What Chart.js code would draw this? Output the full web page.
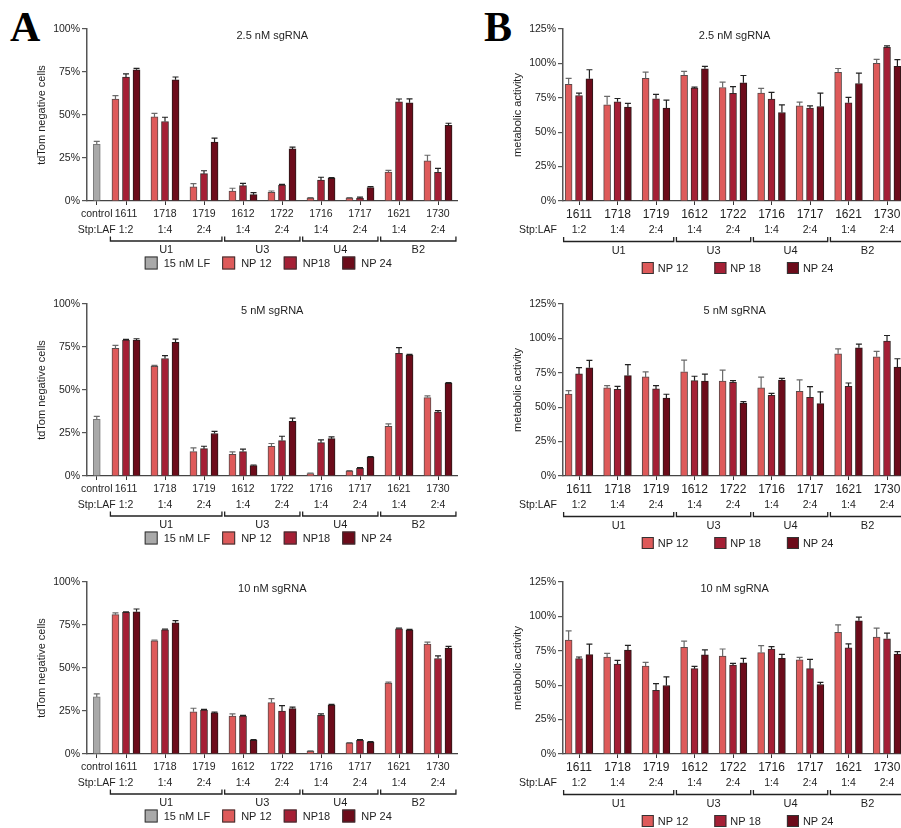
<!DOCTYPE html>
<html>
<head>
<meta charset="utf-8">
<title>sgRNA knockdown and metabolic activity</title>
<script src="https://cdn.jsdelivr.net/npm/chart.js@4.4.1/dist/chart.umd.min.js"></script>
<style>
  html, body { margin: 0; padding: 0; background: #fff; overflow: hidden; }
  #fig { position: relative; width: 901px; height: 828px; overflow: hidden; background: #fff; }
  #fig canvas { position: absolute; }
  .letter { position: absolute; font: bold 42px "Liberation Serif", "Times New Roman", serif; line-height: 1; color: #000; }
</style>
</head>
<body>
<div id="fig">
  <div class="letter" style="left:10px;top:6px">A</div>
  <div class="letter" style="left:484px;top:6px">B</div>
</div>
<script>
// ---- categories ----
const strains = ['1611', '1718', '1719', '1612', '1722', '1716', '1717', '1621', '1730'];
const ratios  = ['1:2', '1:4', '2:4', '1:4', '2:4', '1:4', '2:4', '1:4', '2:4'];
const groupNames = ['U1', 'U3', 'U4', 'B2'];
const groupSizes = [3, 2, 2, 2];

// ---- tdTom negative cells (%), mean and SD ----
const tdLF   = [33.0, 33.0, 33.2];
const tdLFsd = [1.7, 1.7, 1.7];

const td25_np12   = [59.2, 48.9, 8.2, 5.8, 5.0, 1.7, 1.7, 16.8, 23.3];
const td25_np12sd = [2.1, 2.1, 1.9, 1.6, 0.8, 0.3, 0.3, 1.0, 3.3];
const td25_np18   = [72.0, 46.2, 15.9, 8.9, 9.3, 12.2, 1.7, 57.7, 16.7];
const td25_np18sd = [1.9, 2.5, 1.7, 1.4, 0.4, 1.6, 0.5, 1.6, 2.3];
const td25_np24   = [76.3, 70.5, 34.2, 3.7, 30.3, 13.2, 7.8, 57.1, 44.0];
const td25_np24sd = [0.8, 1.6, 2.3, 1.2, 1.0, 0.4, 0.6, 2.3, 1.2];

const td5_np12   = [74.2, 63.7, 14.2, 12.6, 17.3, 1.4, 2.9, 28.9, 45.6];
const td5_np12sd = [1.7, 0.6, 2.1, 1.4, 1.6, 0.3, 0.3, 1.4, 1.0];
const td5_np18   = [79.0, 68.3, 15.9, 14.2, 20.6, 19.4, 4.5, 71.3, 37.2];
const td5_np18sd = [0.4, 1.7, 1.4, 1.4, 2.5, 1.6, 0.4, 3.3, 0.8];
const td5_np24   = [79.0, 77.7, 24.7, 6.0, 31.8, 21.7, 10.9, 70.3, 53.9];
const td5_np24sd = [0.8, 1.9, 1.2, 0.4, 1.9, 1.0, 0.4, 0.4, 0.4];

const td10_np12   = [81.0, 65.8, 24.5, 22.1, 29.9, 1.6, 6.4, 41.2, 63.9];
const td10_np12sd = [1.0, 0.4, 2.1, 1.2, 2.3, 0.3, 0.3, 0.6, 1.2];
const td10_np18   = [82.3, 72.2, 25.6, 22.1, 25.0, 22.5, 8.0, 72.8, 55.5];
const td10_np18sd = [0.4, 0.4, 0.4, 0.4, 3.1, 0.8, 0.4, 0.4, 1.5];
const td10_np24   = [82.7, 76.3, 23.9, 8.0, 26.4, 28.5, 6.8, 72.0, 61.6];
const td10_np24sd = [1.6, 1.2, 0.4, 0.4, 0.8, 0.4, 0.4, 0.4, 1.0];

// ---- metabolic activity (%), mean and SD ----
const ma25_np12   = [84.7, 69.9, 89.1, 91.3, 82.5, 78.4, 69.2, 93.6, 100.0];
const ma25_np12sd = [4.4, 6.1, 4.6, 2.9, 3.9, 3.4, 2.7, 2.7, 2.9];
const ma25_np18   = [76.7, 72.1, 74.3, 82.0, 78.2, 74.0, 67.5, 71.4, 111.7];
const ma25_np18sd = [1.7, 2.4, 3.2, 0.7, 4.9, 4.9, 1.7, 3.9, 1.0];
const ma25_np24   = [88.8, 68.2, 67.5, 96.1, 85.9, 64.3, 68.7, 85.4, 97.8];
const ma25_np24sd = [6.6, 2.7, 5.8, 1.7, 5.3, 5.6, 9.7, 7.6, 4.9];

const ma5_np12   = [59.6, 64.0, 72.0, 75.7, 68.9, 64.0, 61.6, 88.8, 86.6];
const ma5_np12sd = [2.4, 1.7, 3.6, 8.5, 8.0, 7.8, 8.3, 3.6, 3.9];
const ma5_np18   = [74.2, 63.0, 63.3, 69.3, 68.1, 58.6, 57.2, 65.2, 98.0];
const ma5_np18sd = [4.6, 2.2, 2.4, 3.2, 1.2, 1.5, 7.8, 2.4, 4.1];
const ma5_np24   = [78.6, 73.0, 56.7, 68.9, 53.0, 69.8, 52.6, 93.2, 79.1];
const ma5_np24sd = [5.4, 8.0, 2.7, 5.1, 1.0, 1.2, 8.5, 2.7, 6.1];

const ma10_np12   = [82.7, 70.5, 63.9, 77.6, 71.2, 73.7, 68.5, 88.5, 84.9];
const ma10_np12sd = [6.8, 2.7, 2.7, 4.4, 5.1, 5.1, 1.7, 5.4, 6.6];
const ma10_np18   = [69.3, 65.4, 46.3, 62.0, 64.6, 76.3, 62.0, 77.1, 83.7];
const ma10_np18sd = [1.2, 2.7, 4.9, 1.7, 1.2, 1.7, 6.8, 2.9, 4.1];
const ma10_np24   = [72.2, 75.6, 49.8, 72.0, 66.3, 69.5, 50.5, 96.8, 72.7];
const ma10_np24sd = [7.6, 3.4, 6.3, 3.7, 3.2, 2.9, 1.5, 2.7, 1.7];

// ---- styling ----
const FONT = '"Liberation Sans", Arial, Helvetica, sans-serif';
const TEXT = '#1e1e1e';
const LF_STYLE = { color: '#a9a9a9', border: '#7a7a7a', err: '#6a6a6a' };
const NP_STYLES = [
  { color: '#de5a5a', border: '#5a4a4a', err: '#6a6a6a' },
  { color: '#a51f35', border: '#3a2a2a', err: '#222' },
  { color: '#6c0b1a', border: '#2a1a1a', err: '#222' }
];
const CONTROL_X = 0.25;   // control bar sits just right of the y axis

// column geometry (pixels in the figure)
const COLS = {
  A: { canvasLeft: 0, canvasWidth: 470, axisX: 87, xMin: 0, xMax: 9.5, unit: 39,
       yTitlePad: 35, nameFont: 10.5, nameDy: 13, ratioDy: 29, bracketDy: 40, groupDy: 49,
       legendDy: 62, legendDx: -4, swatch: 13, legendTextGap: 6, legendItemGap: 12,
       legendLabels: ['15 nM LF', 'NP 12', 'NP18', 'NP 24'] },
  B: { canvasLeft: 470, canvasWidth: 440, axisX: 563, xMin: 0.584, xMax: 9.5, unit: 38.5,
       yTitlePad: 41, nameFont: 12, nameDy: 14, ratioDy: 29.5, bracketDy: 40.5, groupDy: 50,
       legendDy: 67, legendDx: 3, swatch: 12, legendTextGap: 4, legendItemGap: 26,
       legendLabels: ['NP 12', 'NP 18', 'NP 24'] }
};
const ROW_TOPS = [0, 275, 553];
const CANVAS_H = 275, PLOT_TOP = 29, PLOT_H = 172;

const panels = [
  { col: 'A', row: 0, title: '2.5 nM sgRNA', yTitle: 'tdTom negative cells', yMax: 100,
    control: [tdLF[0], tdLFsd[0]],
    series: [[td25_np12, td25_np12sd], [td25_np18, td25_np18sd], [td25_np24, td25_np24sd]] },
  { col: 'A', row: 1, title: '5 nM sgRNA', yTitle: 'tdTom negative cells', yMax: 100,
    control: [tdLF[1], tdLFsd[1]],
    series: [[td5_np12, td5_np12sd], [td5_np18, td5_np18sd], [td5_np24, td5_np24sd]] },
  { col: 'A', row: 2, title: '10 nM sgRNA', yTitle: 'tdTom negative cells', yMax: 100,
    control: [tdLF[2], tdLFsd[2]],
    series: [[td10_np12, td10_np12sd], [td10_np18, td10_np18sd], [td10_np24, td10_np24sd]] },
  { col: 'B', row: 0, title: '2.5 nM sgRNA', yTitle: 'metabolic activity', yMax: 125, control: null,
    series: [[ma25_np12, ma25_np12sd], [ma25_np18, ma25_np18sd], [ma25_np24, ma25_np24sd]] },
  { col: 'B', row: 1, title: '5 nM sgRNA', yTitle: 'metabolic activity', yMax: 125, control: null,
    series: [[ma5_np12, ma5_np12sd], [ma5_np18, ma5_np18sd], [ma5_np24, ma5_np24sd]] },
  { col: 'B', row: 2, title: '10 nM sgRNA', yTitle: 'metabolic activity', yMax: 125, control: null,
    series: [[ma10_np12, ma10_np12sd], [ma10_np18, ma10_np18sd], [ma10_np24, ma10_np24sd]] }
];

// draws SD whiskers, panel title, x labels, brackets and legend
function makeDecor(p, g) {
  return {
    id: 'decor',
    afterDatasetsDraw(chart) {
      const ctx = chart.ctx, ys = chart.scales.y;
      ctx.save();
      ctx.lineWidth = 1.2;
      chart.data.datasets.forEach((ds, di) => {
        const meta = chart.getDatasetMeta(di);
        ctx.strokeStyle = ds.errColor;
        meta.data.forEach((el, j) => {
          const sd = ds.sd[j];
          if (!sd) return;
          const yTop = ys.getPixelForValue(ds.data[j].y + sd);
          ctx.beginPath();
          ctx.moveTo(el.x, el.y);
          ctx.lineTo(el.x, yTop);
          ctx.moveTo(el.x - 3, yTop);
          ctx.lineTo(el.x + 3, yTop);
          ctx.stroke();
        });
      });
      ctx.restore();
    },
    afterDraw(chart) {
      const ctx = chart.ctx, xs = chart.scales.x, area = chart.chartArea;
      const base = area.bottom, cx = (area.left + area.right) / 2;
      ctx.save();
      ctx.fillStyle = TEXT;
      ctx.textBaseline = 'middle';
      ctx.textAlign = 'center';

      // title
      ctx.font = `11px ${FONT}`;
      ctx.fillText(p.title, cx, area.top + 6.5);

      // strain names and Stp:LAF ratios
      ctx.font = `${g.nameFont}px ${FONT}`;
      if (p.control) ctx.fillText('control', xs.getPixelForValue(CONTROL_X), base + g.nameDy);
      strains.forEach((s, i) => ctx.fillText(s, xs.getPixelForValue(i + 1), base + g.nameDy));
      ctx.font = `10.5px ${FONT}`;
      ratios.forEach((r, i) => ctx.fillText(r, xs.getPixelForValue(i + 1), base + g.ratioDy));
      if (p.control) {
        ctx.fillText('Stp:LAF', xs.getPixelForValue(CONTROL_X), base + g.ratioDy);
      } else {
        ctx.textAlign = 'right';
        ctx.fillText('Stp:LAF', area.left - 6, base + g.ratioDy);
        ctx.textAlign = 'center';
      }

      // group brackets
      ctx.strokeStyle = '#222';
      ctx.lineWidth = 1.3;
      ctx.font = `11px ${FONT}`;
      let start = 1;
      groupNames.forEach((name, k) => {
        const first = start, last = start + groupSizes[k] - 1;
        const l = xs.getPixelForValue(k === 0 ? first - 0.4 : first - 0.47);
        const r = xs.getPixelForValue(last + 0.46);
        const by = base + g.bracketDy;
        ctx.beginPath();
        ctx.moveTo(l, by - 4.5);
        ctx.lineTo(l, by);
        ctx.lineTo(r, by);
        ctx.lineTo(r, by - 4.5);
        ctx.stroke();
        ctx.fillText(name, (l + r) / 2, base + g.groupDy);
        start = last + 1;
      });

      // legend
      const items = chart.data.datasets.map((ds, i) => ({ label: g.legendLabels[i], color: ds.backgroundColor }));
      ctx.font = `11px ${FONT}`;
      const widths = items.map(it => g.swatch + g.legendTextGap + ctx.measureText(it.label).width);
      const total = widths.reduce((a, b) => a + b, 0) + g.legendItemGap * (items.length - 1);
      let x = cx + g.legendDx - total / 2;
      const ly = base + g.legendDy;
      ctx.textAlign = 'left';
      items.forEach((it, k) => {
        ctx.fillStyle = it.color;
        ctx.fillRect(x, ly - g.swatch / 2, g.swatch, g.swatch);
        ctx.strokeStyle = '#333';
        ctx.lineWidth = 1;
        ctx.strokeRect(x + 0.5, ly - g.swatch / 2 + 0.5, g.swatch - 1, g.swatch - 1);
        ctx.fillStyle = TEXT;
        ctx.fillText(it.label, x + g.swatch + g.legendTextGap, ly + 0.5);
        x += widths[k] + g.legendItemGap;
      });
      ctx.restore();
    }
  };
}

const fig = document.getElementById('fig');

panels.forEach(p => {
  const g = COLS[p.col];
  const canvas = document.createElement('canvas');
  canvas.width = g.canvasWidth;
  canvas.height = CANVAS_H;
  canvas.style.left = g.canvasLeft + 'px';
  canvas.style.top = ROW_TOPS[p.row] + 'px';
  fig.appendChild(canvas);

  const datasets = [];
  if (p.control) {
    datasets.push({
      label: '15 nM LF',
      data: [{ x: CONTROL_X, y: p.control[0] }],
      sd: [p.control[1]],
      backgroundColor: LF_STYLE.color, borderColor: LF_STYLE.border, borderWidth: 1,
      barThickness: 7, skipNull: true, errColor: LF_STYLE.err
    });
  }
  p.series.forEach((s, k) => {
    const st = NP_STYLES[k];
    datasets.push({
      label: g.legendLabels[datasets.length],
      data: s[0].map((v, i) => ({ x: i + 1, y: v })),
      sd: s[1],
      backgroundColor: st.color, borderColor: st.border, borderWidth: 1,
      barThickness: 'flex', categoryPercentage: 0.81, barPercentage: 0.667,
      skipNull: true, errColor: st.err
    });
  });

  const tickVals = (p.control ? [CONTROL_X] : []).concat(strains.map((s, i) => i + 1));
  const yAxisWidth = g.axisX - g.canvasLeft;
  const padRight = g.canvasWidth - yAxisWidth - (g.xMax - g.xMin) * g.unit;

  new Chart(canvas, {
    type: 'bar',
    data: { datasets },
    options: {
      responsive: false,
      animation: false,
      events: [],
      layout: { padding: { top: PLOT_TOP, left: 0, right: padRight, bottom: 0 } },
      plugins: { legend: { display: false }, tooltip: { enabled: false } },
      scales: {
        x: {
          type: 'linear', min: g.xMin, max: g.xMax, offset: false,
          afterBuildTicks: s => { s.ticks = tickVals.map(v => ({ value: v })); },
          ticks: { display: false },
          grid: { display: true, drawOnChartArea: false, drawTicks: true, tickLength: 4,
                  color: '#333', lineWidth: 1, offset: false },
          border: { display: true, color: '#444', width: 1.3, dash: [2, 1] },
          afterFit: s => { s.height = CANVAS_H - PLOT_TOP - PLOT_H; }
        },
        y: {
          min: 0, max: p.yMax,
          ticks: { stepSize: 25, callback: v => v + '%', color: TEXT, padding: 2,
                   font: { family: FONT, size: 10.5 } },
          grid: { drawOnChartArea: false, drawTicks: true, tickLength: 5, color: '#555', lineWidth: 1.2 },
          border: { display: true, color: '#555', width: 1.5 },
          title: { display: true, text: p.yTitle, color: TEXT,
                   font: { family: FONT, size: 11 }, padding: { top: g.yTitlePad, bottom: 0 } },
          afterFit: s => { s.width = yAxisWidth; }
        }
      }
    },
    plugins: [makeDecor(p, g)]
  });
});
</script>
</body>
</html>
